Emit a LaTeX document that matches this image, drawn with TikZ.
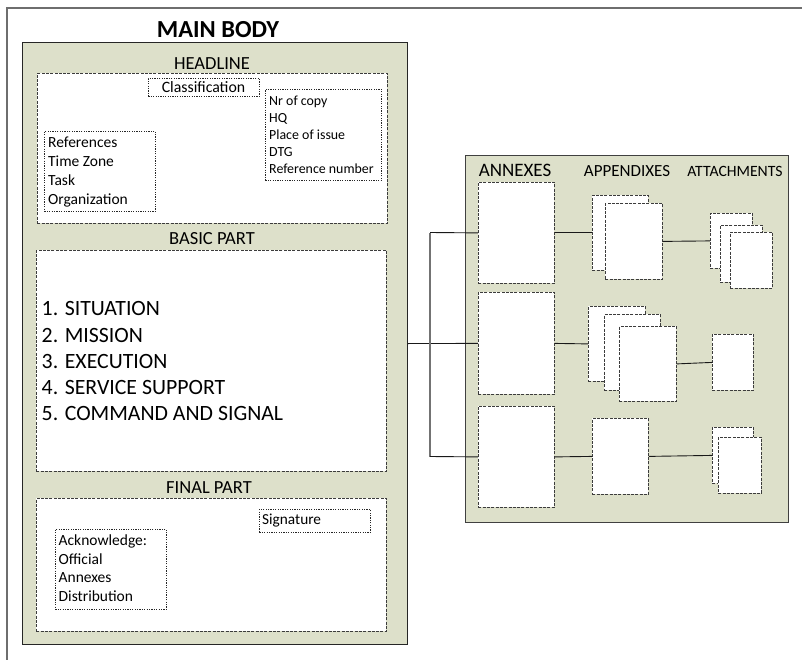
\documentclass[tikz,border=0pt]{standalone}
\usepackage{fontspec}
\setmainfont{Carlito}
\definecolor{panelgreen}{RGB}{221,224,202}
\definecolor{edgegray}{RGB}{60,60,60}
\definecolor{framegray}{RGB}{110,110,110}
\newcommand{\fs}[2]{\fontsize{#1}{#2}\selectfont}
\begin{document}
\begin{tikzpicture}[x=1pt,y=-1pt,
  panel/.style={draw=black!85,fill=panelgreen,line width=1.1pt,anchor=north west,inner sep=0pt},
  partbox/.style={draw=edgegray,fill=white,line width=0.8pt,dash pattern=on 3pt off 1.3pt,anchor=north west,inner sep=0pt},
  textbox/.style={draw=black!85,fill=white,line width=0.8pt,dash pattern=on 1.2pt off 1.2pt,anchor=north west,inner sep=0pt},
  sheet/.style={draw=edgegray,fill=white,line width=0.8pt,dash pattern=on 3pt off 1.3pt,anchor=north west,inner sep=0pt},
  conn/.style={draw=black!90,line width=0.9pt},
  title/.style={inner sep=0pt,anchor=center},
  lines/.style={inner sep=0pt,anchor=north west,align=left}]
\useasboundingbox (0,0) rectangle (802,660);

% page frame
\draw[framegray,line width=1.4pt] (7,660) -- (7,8) -- (802,8);

% main body panel
\node[title,font=\fs{24.5}{28}\bfseries] (mbtitle) at (218,30) {MAIN BODY};
\node[panel,minimum width=385,minimum height=602] (mb) at (22,42) {};

% headline
\node[title,font=\fs{18.5}{22}] (hltitle) at (212,64) {HEADLINE};
\node[partbox,minimum width=350,minimum height=150] (hl) at (37,73) {};
\node[textbox,minimum width=111,minimum height=18] (cls) at (148,78) {};
\node[title,font=\fs{15.8}{18}] (clstext) at (203.5,87) {Classification};
\node[textbox,minimum width=116,minimum height=91] (copy) at (265,89) {};
\node[lines,font=\fs{13.9}{17}] (copytext) at (269,96) {Nr of copy\\HQ\\Place of issue\\DTG\\Reference number};
\node[textbox,minimum width=111,minimum height=80] (refs) at (44,131) {};
\node[lines,font=\fs{15.5}{19}] (refstext) at (48,137) {References\\Time Zone\\Task\\Organization};

% basic part
\node[title,font=\fs{18.5}{22}] (bptitle) at (212,239) {BASIC PART};
\node[partbox,minimum width=350,minimum height=221] (bp) at (36,250) {};
\node[lines,font=\fs{21.8}{26.2}] (bptext) at (41.5,301.5) {1. SITUATION\\2. MISSION\\3. EXECUTION\\4. SERVICE SUPPORT\\5. COMMAND AND SIGNAL};

% final part
\node[title,font=\fs{18.5}{22}] (fptitle) at (209,488) {FINAL PART};
\node[partbox,minimum width=350,minimum height=133] (fp) at (36,498) {};
\node[textbox,minimum width=111,minimum height=23] (sig) at (259,509) {};
\node[lines,anchor=west,font=\fs{15.3}{18}] (sigtext) at (262,520.5) {Signature};
\node[textbox,minimum width=111,minimum height=80] (ack) at (55,529) {};
\node[lines,font=\fs{15.5}{18.4}] (acktext) at (58.5,535) {Acknowledge:\\Official\\Annexes\\Distribution};

% annexes panel
\node[panel,draw=black!75,minimum width=323,minimum height=367] (ax) at (465,155) {};
\node[title,font=\fs{19}{22}] (axtitle) at (515,170) {ANNEXES};
\node[title,font=\fs{17}{20}] (aptitle) at (627,171) {APPENDIXES};
\node[title,font=\fs{15.7}{18}] (attitle) at (735,171) {ATTACHMENTS};

\node[sheet,minimum width=76,minimum height=101] (an1) at (478,182) {};
\node[sheet,minimum width=76,minimum height=102] (an2) at (478,292) {};
\node[sheet,minimum width=76,minimum height=101] (an3) at (478,406) {};

% appendixes
\node[sheet,minimum width=56,minimum height=75] (ap1a) at (592,195) {};
\node[sheet,minimum width=57,minimum height=76] (ap1b) at (605,203) {};

\node[sheet,minimum width=57,minimum height=75] (ap2a) at (588,306) {};
\node[sheet,minimum width=56,minimum height=76] (ap2b) at (604,314) {};
\node[sheet,minimum width=57,minimum height=75] (ap2c) at (619,326) {};

\node[sheet,minimum width=56,minimum height=76] (ap3) at (592,418) {};

% attachments
\node[sheet,minimum width=42,minimum height=55] (at1a) at (710,213) {};
\node[sheet,minimum width=42,minimum height=57] (at1b) at (720,225) {};
\node[sheet,minimum width=42,minimum height=56] (at1c) at (730,232) {};

\node[sheet,minimum width=41,minimum height=56] (at2) at (712,334) {};

\node[sheet,minimum width=41,minimum height=56] (at3a) at (712,427) {};
\node[sheet,minimum width=43,minimum height=56] (at3b) at (718,437) {};

% connectors
\coordinate (jtop) at (430,232.5);
\coordinate (jbot) at (430,456.5);
\draw[conn] (mb.east) -- (an2.west);
\draw[conn,draw=black!55,line width=1.2pt] (jtop) -- (jbot);
\draw[conn] (jtop) -- (an1.west);
\draw[conn] (jbot) -- (an3.west);
\draw[conn] (an1.east) -- (ap1a.west);
\draw[conn] (an2.east) -- (ap2a.west);
\draw[conn] (an3.east) -- (ap3.west);
\draw[conn] (ap1b.east) -- (at1a.west);
\draw[conn] (ap2c.east) -- (at2.west);
\draw[conn] (ap3.east) -- (at3a.west);
\end{tikzpicture}
\end{document}
